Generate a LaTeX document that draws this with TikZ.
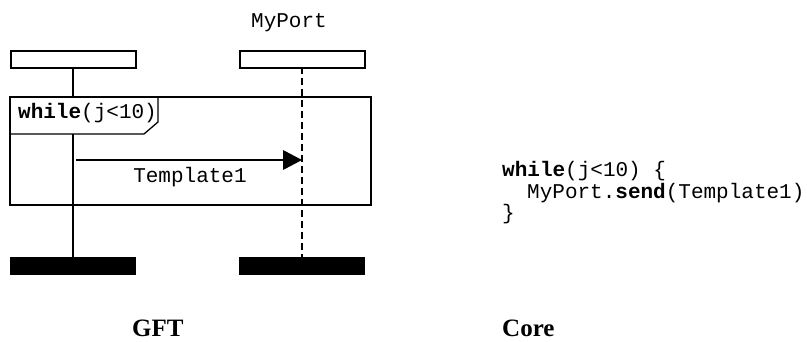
\documentclass[tikz,border=0pt]{standalone}
\usepackage{fontspec}
\setmainfont{Liberation Serif}
\setmonofont{Liberation Mono}
\begin{document}
\begin{tikzpicture}[x=1pt,y=-1pt,
  headbox/.style={draw,line width=1.8pt,minimum width=125pt,minimum height=17pt,inner sep=0pt,anchor=north west},
  endbar/.style={fill=black,draw=none,minimum width=126pt,minimum height=18pt,inner sep=0pt,anchor=north west},
  code/.style={font=\fontsize{21}{24}\selectfont\ttfamily,inner sep=0pt,anchor=base west},
  caption/.style={font=\fontsize{25}{28}\selectfont\bfseries,inner sep=0pt,anchor=base west},
  life/.style={line width=1.5pt},
  frame/.style={line width=1.8pt}]
\useasboundingbox (0,0) rectangle (807,342);
% instance heads
\node[headbox] (h1) at (10,50) {};
\node[headbox] (h2) at (239,50) {};
\node[code,anchor=base] (port) at (289,28) {MyPort};
% end bars
\node[endbar] (e1) at (10,257) {};
\node[endbar] (e2) at (239,257) {};
% lifelines
\coordinate (l1t) at (73,67);
\coordinate (l2t) at (302,67);
\draw[life] (l1t) -- (l1t |- e1.north);
% inline frame tag (covers the left lifeline)
\fill[white] (10,97) -- (10,134) -- (144,134) -- (158,122) -- (158,97) -- cycle;
\draw[line width=1.3pt] (10,134) -- (144,134) -- (158,122) -- (158,97);
\draw[life,dashed,dash pattern=on 7pt off 4pt] (l2t) -- (l2t |- e2.north);
\coordinate (fa) at (10,97);
\coordinate (fb) at (371,205);
\draw[frame] (fa) rectangle (fb);
\node[code] (wt) at (18,119) {\textbf{while}(j<10)};
% message
\coordinate (ms) at (76,160);
\coordinate (me) at (302,160);
\draw[line width=1.8pt] (ms) -- (284,160);
\fill (283,150) -- (me) -- (283,170) -- cycle;
\node[code,anchor=base] (tmpl) at (190,183) {Template1};
% core text
\node[code] (c1) at (502,177) {\textbf{while}(j<10) \{};
\node[code] (c2) at (527,199) {MyPort.\textbf{send}(Template1)};
\node[code] (c3) at (502,220) {\}};
% captions
\node[caption] (gft) at (132,337) {GFT};
\node[caption] (core) at (502,337) {Core};
\end{tikzpicture}
\end{document}
